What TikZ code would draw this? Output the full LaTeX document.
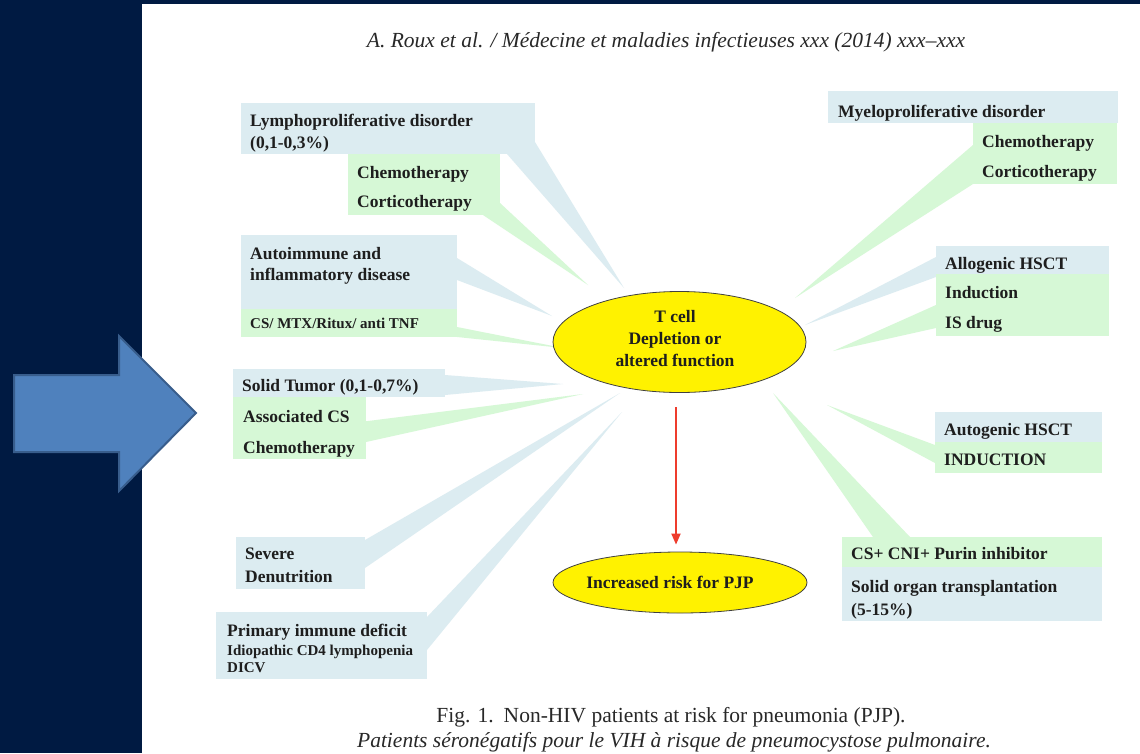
\documentclass[tikz,border=0pt]{standalone}
\usepackage{fontspec}
\setmainfont{Liberation Serif}
\usetikzlibrary{shapes.geometric,arrows.meta,fit}
\definecolor{navy}{RGB}{0,26,66}
\definecolor{bigarrow}{RGB}{79,129,189}
\definecolor{bigarrowline}{RGB}{56,93,140}
\definecolor{boxblue}{RGB}{220,236,241}
\definecolor{boxgreen}{RGB}{214,248,214}
\definecolor{txt}{RGB}{30,30,30}
\definecolor{capt}{RGB}{40,40,40}
\definecolor{redline}{RGB}{238,60,45}
\newcommand\lblfont{\fontsize{17.5}{21}\selectfont\bfseries}
\newcommand\smlfont{\fontsize{15}{18}\selectfont\bfseries}
\begin{document}
\begin{tikzpicture}[x=1pt,y=-1pt,
  bbox/.style={fill=boxblue, draw=none, inner sep=0pt, outer sep=0pt},
  gbox/.style={fill=boxgreen, draw=none, inner sep=0pt, outer sep=0pt},
  bwedge/.style={fill=boxblue, draw=none},
  gwedge/.style={fill=boxgreen, draw=none},
  lbl/.style={anchor=base west, inner sep=0pt, text=txt, font=\lblfont},
  sml/.style={anchor=base west, inner sep=0pt, text=txt, font=\smlfont},
  ctr/.style={anchor=base, inner sep=0pt, text=txt, font=\lblfont},
  yell/.style={ellipse, draw=black!75, line width=0.8pt, fill=yellow, inner sep=0pt},
  redarr/.style={draw=redline, line width=1.8pt, -{Triangle[length=11pt,width=9pt]}},
  captxt/.style={anchor=base, inner sep=0pt, text=capt, font=\fontsize{21.5}{24}\selectfont}
]
% background and page
\useasboundingbox (0,0) rectangle (1140,753);
\fill[navy] (0,0) rectangle (1140,753);
\fill[white] (142,4) rectangle (1140,753);

% big blue arrow
\draw[fill=bigarrow, draw=bigarrowline, line width=2pt, line join=miter]
  (14,375) -- (119,375) -- (119,336) -- (196,413) -- (119,491) -- (119,452) -- (14,452) -- cycle;

% header
\node[captxt] (hdr) at (666,47) {\itshape A. Roux et al. / Médecine et maladies infectieuses xxx (2014) xxx–xxx};

% wedge tips
\coordinate (tLymB) at (624,288);
\coordinate (tLymG) at (588,285);
\coordinate (tAutB) at (552,316);
\coordinate (tAutG) at (563,348);
\coordinate (tSolB) at (563,384);
\coordinate (tSolG) at (583,394);
\coordinate (tSev)  at (620,393);
\coordinate (tPri)  at (622,412);
\coordinate (tMye)  at (795,298);
\coordinate (tAllB) at (805,325);
\coordinate (tAllG) at (833,351);
\coordinate (tAug)  at (827,405);
\coordinate (tCs)   at (773,393);

% wedges
\fill[bwedge] (535,142) -- (tLymB) -- (507,154) -- (535,154) -- cycle;
\fill[gwedge] (500,203) -- (tLymG) -- (483,215) -- (500,215) -- cycle;
\fill[bwedge] (457,258) -- (tAutB) -- (457,280) -- cycle;
\fill[gwedge] (457,327) -- (tAutG) -- (457,337) -- cycle;
\fill[bwedge] (445,375) -- (tSolB) -- (445,395) -- cycle;
\fill[gwedge] (360,422) -- (tSolG) -- (366,442) -- (360,442) -- cycle;
\fill[bwedge] (365,540) -- (tSev) -- (365,568) -- cycle;
\fill[bwedge] (427,617) -- (tPri) -- (427,650) -- cycle;
\fill[gwedge] (973,145) -- (tMye) -- (973,184) -- cycle;
\fill[bwedge] (936,257) -- (tAllB) -- (936,277) -- cycle;
\fill[gwedge] (936,305) -- (tAllG) -- (936,328) -- cycle;
\fill[gwedge] (935,445) -- (tAug) -- (935,463) -- cycle;
\fill[gwedge] (873,537) -- (tCs) -- (910,537) -- cycle;

% boxes
\node[bbox, fit={(241,103) (535,154)}] (lymB) {};
\node[gbox, fit={(348,154) (500,215)}] (lymG) {};
\node[bbox, fit={(241,235) (457,309)}] (autB) {};
\node[gbox, fit={(241,309) (457,337)}] (autG) {};
\node[bbox, fit={(233,369) (445,397)}] (solB) {};
\node[gbox, fit={(233,397) (366,459)}] (solG) {};
\node[bbox, fit={(236,537) (365,589)}] (sevB) {};
\node[bbox, fit={(216,612) (427,679)}] (priB) {};
\node[bbox, fit={(828,91) (1118,123)}] (myeB) {};
\node[gbox, fit={(973,123) (1117,184)}] (myeG) {};
\node[bbox, fit={(936,246) (1109,274)}] (allB) {};
\node[gbox, fit={(936,274) (1109,336)}] (allG) {};
\node[bbox, fit={(935,412) (1102,442)}] (augB) {};
\node[gbox, fit={(935,442) (1102,473)}] (augG) {};
\node[gbox, fit={(842,537) (1102,567)}] (csG) {};
\node[bbox, fit={(842,567) (1102,621)}] (csB) {};

% texts left
\node[lbl] (l1a) at (250,126) {Lymphoproliferative disorder};
\node[lbl] (l1b) at (250,148) {(0,1-0,3\%)};
\node[lbl] (l2a) at (357,178) {Chemotherapy};
\node[lbl] (l2b) at (357,207) {Corticotherapy};
\node[lbl] (l3a) at (250,259) {Autoimmune and};
\node[lbl] (l3b) at (250,280) {inflammatory disease};
\node[sml] (l4)  at (250,328) {CS/ MTX/Ritux/ anti TNF};
\node[lbl] (l5a) at (242,391) {Solid Tumor (0,1-0,7\%)};
\node[lbl] (l5b) at (243,422) {Associated CS};
\node[lbl] (l5c) at (243,453) {Chemotherapy};
\node[lbl] (l6a) at (245,559) {Severe};
\node[lbl] (l6b) at (245,582) {Denutrition};
\node[lbl] (l7a) at (227,636) {Primary immune deficit};
\node[sml] (l7b) at (227,655) {Idiopathic CD4 lymphopenia};
\node[sml] (l7c) at (227,672) {DICV};

% texts right
\node[lbl] (r1a) at (838,117) {Myeloproliferative disorder};
\node[lbl] (r1b) at (982,147) {Chemotherapy};
\node[lbl] (r1c) at (982,177) {Corticotherapy};
\node[lbl] (r2a) at (945,269) {Allogenic HSCT};
\node[lbl] (r2b) at (945,298) {Induction};
\node[lbl] (r2c) at (945,328) {IS drug};
\node[lbl] (r3a) at (944,435) {Autogenic HSCT};
\node[lbl] (r3b) at (944,465) {INDUCTION};
\node[lbl] (r4a) at (851,559) {CS+ CNI+ Purin inhibitor};
\node[lbl] (r4b) at (851,592) {Solid organ transplantation};
\node[lbl] (r4c) at (851,615) {(5-15\%)};

% ellipses
\node[yell, minimum width=253pt, minimum height=101pt] (tcell) at (679.5,342) {};
\node[ctr] (tc1) at (675,322) {T cell};
\node[ctr] (tc2) at (675,344) {Depletion or};
\node[ctr] (tc3) at (675,366) {altered function};
\node[yell, minimum width=254pt, minimum height=61pt] (risk) at (680,582.5) {};
\node[ctr] (risktxt) at (670,588) {Increased risk for PJP};

% red arrow
\coordinate (arrx) at (676,0);
\draw[redarr, shorten <=14.5pt, shorten >=7pt] (tcell.south -| arrx) -- (risk.north -| arrx);

% caption
\node[captxt] (cap1) at (671,722) {Fig. 1.\hspace{10pt}Non-HIV patients at risk for pneumonia (PJP).};
\node[captxt] (cap2) at (674,747) {\itshape Patients séronégatifs pour le VIH à risque de pneumocystose pulmonaire.};
\end{tikzpicture}
\end{document}
